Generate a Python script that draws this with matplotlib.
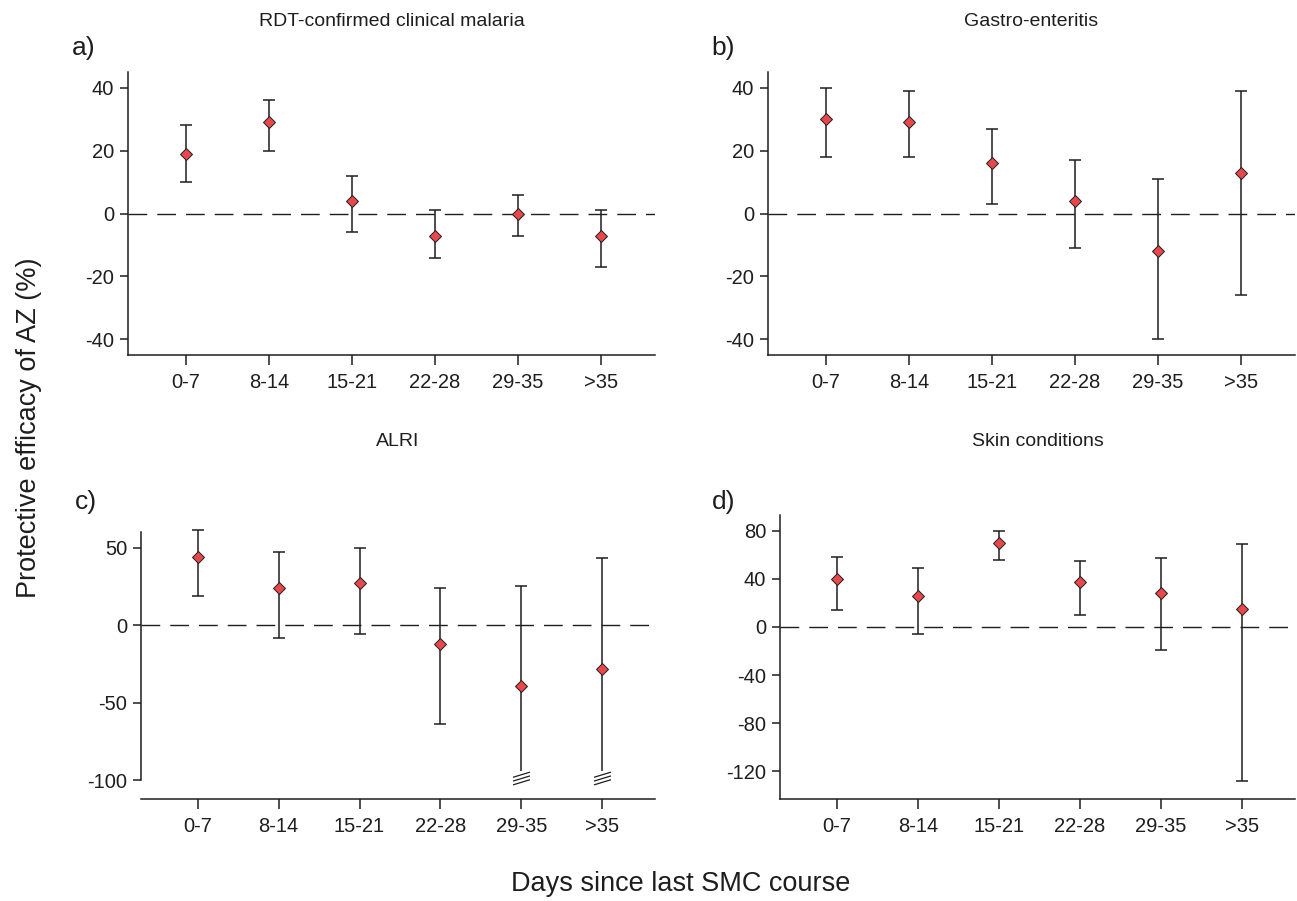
import numpy as np
import matplotlib.pyplot as plt
from matplotlib.path import Path

plt.rcParams['font.family'] = ['Liberation Sans', 'DejaVu Sans']
plt.rcParams['axes.unicode_minus'] = False

# days since last SMC course
groups = ['0-7', '8-14', '15-21', '22-28', '29-35', '>35']

# protective efficacy of AZ (%), point estimate and 95% CI
mal_est = [19, 29, 4, -7, 0, -7]
mal_lo = [10, 20, -6, -14, -7, -17]
mal_hi = [28, 36, 12, 1, 6, 1]

gas_est = [30, 29, 16, 4, -12, 13]
gas_lo = [18, 18, 3, -11, -40, -26]
gas_hi = [40, 39, 27, 17, 11, 39]

alri_est = [44, 24, 27, -12, -39, -28]
alri_lo = [19, -8, -6, -64, -160, -150]   # last two run off the axis (broken)
alri_hi = [61, 47, 50, 24, 25, 43]

skin_est = [40, 26, 70, 37, 28, 15]
skin_lo = [14, -6, 56, 10, -19, -128]
skin_hi = [58, 49, 80, 55, 57, 69]

W, H = 1297, 901
fig = plt.figure(figsize=(W/100, H/100), dpi=100)

ink = '#1e1e1e'
red = '#e8474b'

# break mark: three short slanted strokes
bv, bc = [], []
for dy in (-3.8, 0, 3.8):
    bv += [(-8.5, dy - 2.6), (8.5, dy + 2.6)]
    bc += [Path.MOVETO, Path.LINETO]
break_mark = Path(bv, bc)


def panel(px, title, label, est, lo, hi, ylim, yticks, spine_lo=None, clip=None, brk=None,
          title_y=21, label_xy=(72, 48)):
    l, r, t, b = px
    ax = fig.add_axes([l/W, 1 - b/H, (r - l)/W, (b - t)/H])
    x = np.arange(1, len(groups) + 1)
    ax.axhline(0, color=ink, lw=1.0, dashes=(13.5, 7.2), dash_capstyle='butt', zorder=1)
    lo = np.array(lo, dtype=float)
    hi = np.array(hi, dtype=float)
    cut = np.zeros(len(lo), bool) if clip is None else lo < ylim[0]
    lo_draw = np.where(cut, clip if clip is not None else 0, lo)
    ax.vlines(x, lo_draw, hi, color=ink, lw=1.1, zorder=2, clip_on=False)
    ax.plot(x, hi, ls='none', marker='_', ms=9, mew=1.1, color=ink, zorder=2, clip_on=False)
    ax.plot(x[~cut], lo[~cut], ls='none', marker='_', ms=9, mew=1.1, color=ink, zorder=2, clip_on=False)
    if cut.any():
        ax.plot(x[cut], np.full(cut.sum(), brk), ls='none', marker=break_mark, ms=12.2,
                mew=0.9, color=ink, zorder=2, clip_on=False)
    ax.plot(x, est, ls='none', marker='D', ms=6.3, mfc=red, mec=ink, mew=0.7, zorder=3, clip_on=False)

    ax.set_xlim(0.3, 6.65)
    ax.set_ylim(ylim)
    ax.set_xticks(x)
    ax.set_xticklabels(groups)
    ax.set_yticks(yticks)
    ax.spines['top'].set_visible(False)
    ax.spines['right'].set_visible(False)
    for s in ('left', 'bottom'):
        ax.spines[s].set_color(ink)
        ax.spines[s].set_linewidth(1.1)
    if spine_lo is not None:
        ax.spines['left'].set_bounds(spine_lo, ylim[1])
    ax.tick_params(axis='y', length=6, width=1.1, color=ink, pad=4, labelsize=14.5, labelcolor=ink)
    ax.tick_params(axis='x', length=7, width=1.1, color=ink, pad=6, labelsize=14.5, labelcolor=ink)

    fig.text((l + r)/2/W, 1 - title_y/H, title, ha='center', va='center', fontsize=14, color=ink)
    fig.text(label_xy[0]/W, 1 - label_xy[1]/H, label, ha='left', va='center', fontsize=19, color=ink)
    return ax


panel((128, 655, 72, 355), 'RDT-confirmed clinical malaria', 'a)', mal_est, mal_lo, mal_hi,
      (-45, 45), [-40, -20, 0, 20, 40], label_xy=(72, 48))
panel((768, 1295, 72, 355), 'Gastro-enteritis', 'b)', gas_est, gas_lo, gas_hi,
      (-45, 45), [-40, -20, 0, 20, 40], label_xy=(711, 48))
panel((141, 655, 532, 799), 'ALRI', 'c)', alri_est, alri_lo, alri_hi,
      (-112, 60), [-100, -50, 0, 50], spine_lo=-100, clip=-94, brk=-98.5,
      title_y=441, label_xy=(75, 502))
panel((780, 1295, 515, 799), 'Skin conditions', 'd)', skin_est, skin_lo, skin_hi,
      (-143, 93), [-120, -80, -40, 0, 40, 80], title_y=441, label_xy=(712, 502))

fig.text(29/W, 1 - 428/H, 'Protective efficacy of AZ (%)', rotation=90, ha='center', va='center',
         fontsize=19.5, color=ink)
fig.text(681/W, 1 - 884/H, 'Days since last SMC course', ha='center', va='center',
         fontsize=19.5, color=ink)

plt.savefig('out.png', dpi=100)
